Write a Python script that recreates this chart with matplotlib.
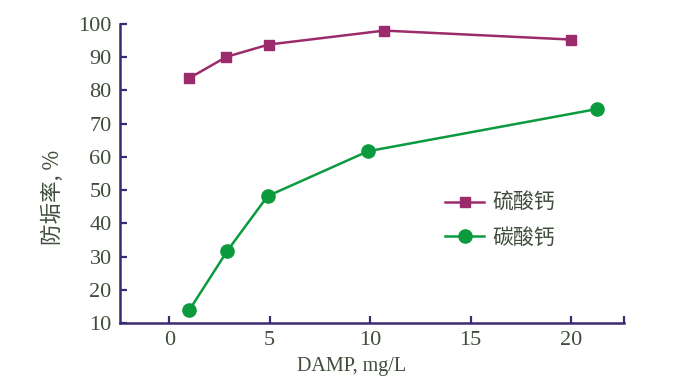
import matplotlib
matplotlib.use('Agg')
import matplotlib.pyplot as plt

# 数据
x_sulfate = [1.0, 2.85, 4.95, 10.7, 20.0]
y_sulfate = [83.7, 90.1, 93.8, 98.0, 95.3]
x_carbonate = [1.0, 2.9, 4.9, 9.9, 21.3]
y_carbonate = [13.9, 31.8, 48.2, 61.7, 74.4]
xticks = [0, 5, 10, 15, 20]
yticks = [10, 20, 30, 40, 50, 60, 70, 80, 90, 100]

axis_color = '#3b2a72'
text_color = '#3f4d3a'
purple = '#9c2b6c'
green = '#0b9a3d'

plt.rcParams['font.family'] = ['Liberation Serif', 'Noto Sans CJK SC']

fig = plt.figure(figsize=(6.8, 3.8), dpi=100)
ax = fig.add_axes([0.1765, 0.15, 0.7415, 0.787])

ax.plot(x_sulfate, y_sulfate, marker='s', markersize=7.5, color=purple,
        linewidth=1.8, label='硫酸钙')
ax.plot(x_carbonate, y_carbonate, marker='o', markersize=9.5, color=green,
        linewidth=1.8, label='碳酸钙')

ax.set_xlim(-2.45, 22.65)
ax.set_ylim(10, 100)
ax.set_xticks(xticks + [22.65])
ax.set_xticklabels([str(t) for t in xticks] + [''])
ax.set_yticks(yticks)
ax.set_yticklabels([str(t) for t in yticks])

for s in ['top', 'right']:
    ax.spines[s].set_visible(False)
for s in ['left', 'bottom']:
    ax.spines[s].set_color(axis_color)
    ax.spines[s].set_linewidth(1.8)

ax.tick_params(direction='in', length=5, width=1.6, color=axis_color,
               labelcolor=text_color, labelsize=16)
ax.tick_params(axis='x', pad=6)
ax.tick_params(axis='y', pad=6)

ax.set_xlabel('DAMP, mg/L', fontsize=14.5, color=text_color)
ax.xaxis.set_label_coords(0.46, -0.115)
ax.set_ylabel('防垢率, %', fontsize=15.5, color=text_color,
              family=['Noto Sans CJK SC', 'Liberation Serif'])
ax.yaxis.set_label_coords(-0.112, 0.42)

leg = ax.legend(loc='upper left', bbox_to_anchor=(0.607, 0.50), frameon=False,
                prop={'family': 'Noto Sans CJK SC', 'size': 15},
                handlelength=1.9, labelspacing=0.6, handletextpad=0.4)
for t in leg.get_texts():
    t.set_color(text_color)

plt.savefig('out.png', dpi=100)
plt.close()
